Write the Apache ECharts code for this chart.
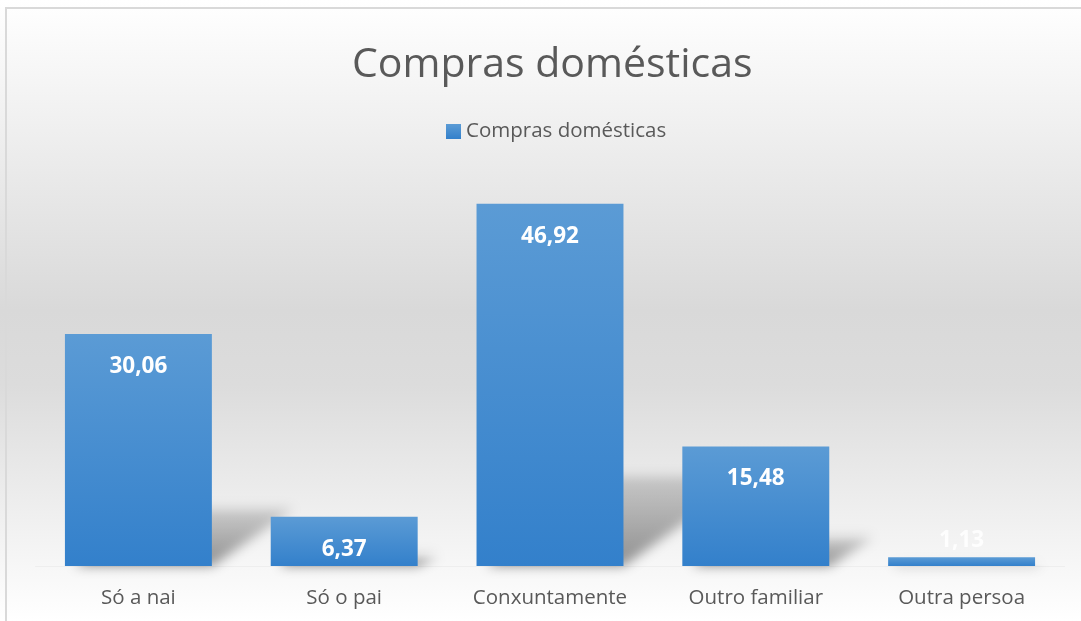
<!DOCTYPE html>
<html>
<head>
<meta charset="utf-8">
<script src="https://cdn.jsdelivr.net/npm/echarts@6/dist/echarts.min.js"></script>
<style>
html,body{margin:0;padding:0;background:#fff;}
#c{width:1081px;height:621px;}
</style>
</head>
<body>
<div id="c"></div>
<script>
const categories = ['Só a nai', 'Só o pai', 'Conxuntamente', 'Outro familiar', 'Outra persoa'];
const values = [30.06, 6.37, 46.92, 15.48, 1.13];
const seriesName = 'Compras domésticas';
const titleText = 'Compras domésticas';

const FONT = '"Open Sans", "Noto Sans", sans-serif';
const GAP = 0.286;
const OFF = 3000;

const chart = echarts.init(document.getElementById('c'));

function fmt(v) { return v.toFixed(2).replace('.', ','); }

const barData = values.map(function (v, i) {
  if (i === values.length - 1) {
    return { value: v, label: { position: 'insideBottom', distance: 14, color: 'rgba(255,255,255,0.85)' } };
  }
  return v;
});

chart.setOption({
  backgroundColor: {
    type: 'linear', x: 0, y: 0, x2: 0, y2: 1,
    colorStops: [
      { offset: 0, color: '#ffffff' },
      { offset: 0.5, color: '#d9d9d9' },
      { offset: 0.62, color: '#dcdcdc' },
      { offset: 1, color: '#ffffff' }
    ]
  },
  animation: false,
  title: {
    text: titleText,
    left: 347,
    top: 40,
    textStyle: { fontFamily: FONT, fontSize: 41, fontWeight: 'normal', color: '#595959' }
  },
  legend: {
    data: [{ name: seriesName, icon: 'rect' }],
    left: 441,
    top: 116,
    itemWidth: 15,
    itemHeight: 15,
    itemGap: 7,
    textStyle: { fontFamily: FONT, fontSize: 20.5, color: '#595959' }
  },
  grid: { left: 35.5, right: 16.5, top: 180, bottom: 55, containLabel: false },
  xAxis: {
    type: 'category',
    data: categories,
    axisLine: { show: true, lineStyle: { color: '#eeeeee', width: 1 } },
    axisTick: { show: false },
    axisLabel: { fontFamily: FONT, fontSize: 20.5, color: '#595959', margin: 22 },
    splitLine: { show: false }
  },
  yAxis: {
    type: 'value',
    min: 0, max: 50,
    show: false,
    splitLine: { show: false }
  },
  series: [
    {
      name: 'shadow',
      type: 'custom',
      silent: true,
      z: 1,
      clip: false,
      data: values.map(function (v, i) { return [i, v]; }),
      renderItem: function (params, api) {
        const base = api.coord([api.value(0), 0]);
        const topP = api.coord([api.value(0), api.value(1)]);
        const bw = api.size([1, 0])[0] * (1 - GAP);
        const h = base[1] - topP[1];
        const rise = h * 0.25;
        const shift = rise * 1.35;
        const x0 = base[0] - bw / 2 - OFF;
        const x1 = base[0] + bw / 2 - OFF;
        const y = base[1];
        return {
          type: 'polygon',
          shape: { points: [[x0 + 10, y], [x1, y], [x1 + shift + 4, y - rise], [x0 + shift, y - rise]] },
          style: {
            fill: {
              type: 'linear', x: 0, y: 1, x2: 0, y2: 0,
              colorStops: [
                { offset: 0, color: 'rgba(0,0,0,1)' },
                { offset: 1, color: 'rgba(0,0,0,0.35)' }
              ]
            },
            shadowBlur: 12,
            shadowOffsetX: OFF,
            shadowOffsetY: 0,
            shadowColor: 'rgba(0,0,0,0.42)'
          }
        };
      }
    },
    {
      name: seriesName,
      type: 'bar',
      z: 2,
      barCategoryGap: (GAP * 100) + '%',
      data: barData,
      itemStyle: {
        color: {
          type: 'linear', x: 0, y: 0, x2: 0, y2: 1,
          colorStops: [
            { offset: 0, color: '#5b9bd5' },
            { offset: 1, color: '#3380cb' }
          ]
        }
      },
      label: {
        show: true,
        position: 'insideTop',
        distance: 21,
        fontFamily: FONT,
        fontSize: 22.5,
        fontWeight: 'bold',
        color: '#ffffff',
        formatter: function (p) { return fmt(p.value); }
      }
    }
  ],
  graphic: [
    {
      type: 'rect',
      z: 100,
      silent: true,
      shape: { x: 6, y: 8, width: 1200, height: 700 },
      style: { fill: 'none', stroke: '#d9d9d9', lineWidth: 2 }
    }
  ]
});
</script>
</body>
</html>
